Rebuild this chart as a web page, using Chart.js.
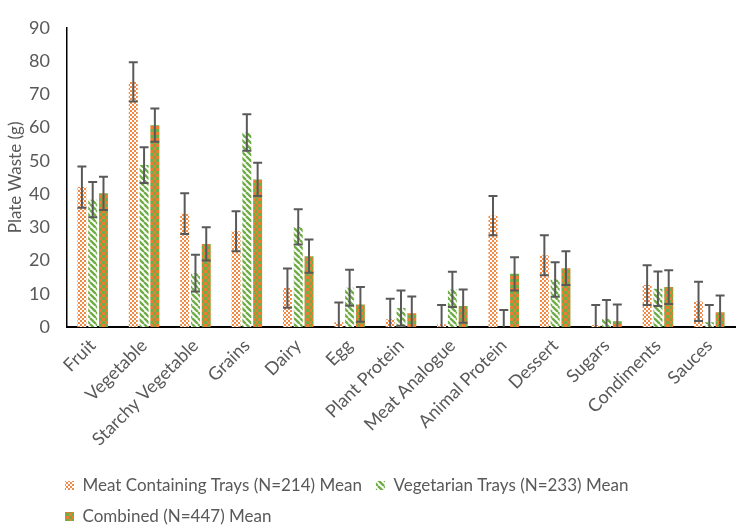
<!DOCTYPE html>
<html>
<head>
<meta charset="utf-8">
<script src="https://cdn.jsdelivr.net/npm/chart.js@4/dist/chart.umd.min.js"></script>
<style>
  body { margin: 0; background: #fff; }
</style>
</head>
<body>
<canvas id="chart" width="740" height="531"></canvas>
<script>
const categories = ['Fruit', 'Vegetable', 'Starchy Vegetable', 'Grains', 'Dairy', 'Egg', 'Plant Protein',
  'Meat Analogue', 'Animal Protein', 'Dessert', 'Sugars', 'Condiments', 'Sauces'];

const meatMean = [42.1, 73.7, 34.1, 28.8, 11.7, 1.4, 2.3, 0.8, 33.5, 21.6, 0.6, 12.6, 7.7];
const meatErr  = [6.2, 5.9, 6.1, 6.0, 5.9, 6.0, 6.2, 5.8, 5.9, 6.0, 6.0, 6.0, 5.9];
const vegMean  = [38.3, 48.7, 16.2, 58.5, 30.1, 11.8, 5.7, 11.3, 0, 14.3, 2.5, 11.5, 1.4];
const vegErr   = [5.3, 5.4, 5.5, 5.5, 5.3, 5.4, 5.3, 5.3, 5.1, 5.2, 5.6, 5.2, 5.2];
const combMean = [40.2, 60.7, 25.0, 44.4, 21.3, 6.8, 4.1, 6.3, 16.0, 17.7, 1.7, 12.0, 4.4];
const combErr  = [5.0, 5.0, 5.0, 5.0, 5.0, 5.2, 5.1, 5.0, 5.0, 5.1, 5.1, 5.1, 5.1];

const seriesLabels = ['Meat Containing Trays (N=214) Mean', 'Vegetarian Trays (N=233) Mean', 'Combined (N=447) Mean'];
const yTicks = [0, 10, 20, 30, 40, 50, 60, 70, 80, 90];

const ORANGE = '#ED7D31';
const GREEN = '#70AD47';
const TEXT = '#595959';

function makePattern(size, paint) {
  const c = document.createElement('canvas');
  c.width = size; c.height = size;
  const g = c.getContext('2d');
  paint(g);
  return g.createPattern(c, 'repeat');
}

// fine orange check on white
const meatFill = makePattern(4, g => {
  g.fillStyle = '#fff'; g.fillRect(0, 0, 4, 4);
  g.fillStyle = '#F08A45';
  g.fillRect(0, 0, 2, 2); g.fillRect(2, 2, 2, 2);
});
// green diagonal stripes
const vegFill = makePattern(6, g => {
  g.fillStyle = '#fff'; g.fillRect(0, 0, 6, 6);
  g.strokeStyle = GREEN; g.lineWidth = 2.4;
  g.beginPath();
  [-6, 0, 6].forEach(k => { g.moveTo(k, 0); g.lineTo(k + 6, 6); });
  g.stroke();
});
// orange check on green
const combFill = makePattern(6, g => {
  g.fillStyle = GREEN; g.fillRect(0, 0, 6, 6);
  g.fillStyle = ORANGE;
  g.fillRect(0, 0, 3, 3); g.fillRect(3, 3, 3, 3);
});

const errors = [meatErr, vegErr, combErr];

const errorBars = {
  id: 'errorBars',
  afterDatasetsDraw(chart) {
    const {ctx, chartArea} = chart;
    const y = chart.scales.y;
    ctx.save();
    ctx.beginPath();
    ctx.rect(chartArea.left, chartArea.top - 10, chartArea.right - chartArea.left, chartArea.bottom - chartArea.top + 10);
    ctx.clip();
    ctx.strokeStyle = TEXT;
    ctx.lineWidth = 2;
    chart.data.datasets.forEach((ds, i) => {
      const meta = chart.getDatasetMeta(i);
      meta.data.forEach((bar, j) => {
        const v = ds.data[j], e = errors[i][j];
        const yTop = y.getPixelForValue(v + e);
        const yBot = y.getPixelForValue(v - e);
        const half = bar.width / 2;
        ctx.beginPath();
        ctx.moveTo(bar.x, yTop); ctx.lineTo(bar.x, yBot);
        ctx.moveTo(bar.x - half, yTop); ctx.lineTo(bar.x + half, yTop);
        ctx.moveTo(bar.x - half, yBot); ctx.lineTo(bar.x + half, yBot);
        ctx.stroke();
      });
    });
    ctx.restore();
  }
};

// put the legend where Excel had it, left aligned under the plot
const legendPlace = {
  id: 'legendPlace',
  afterLayout(chart) {
    const lg = chart.legend;
    const w = lg.width;
    lg.left = 51; lg.right = 51 + w;
    lg.top = 463; lg.bottom = 463 + lg.height;
  }
};

new Chart(document.getElementById('chart'), {
  type: 'bar',
  data: {
    labels: categories,
    datasets: [
      { label: seriesLabels[0], data: meatMean, backgroundColor: meatFill, borderWidth: 0 },
      { label: seriesLabels[1], data: vegMean, backgroundColor: vegFill, borderWidth: 0 },
      { label: seriesLabels[2], data: combMean, backgroundColor: combFill, borderWidth: 0 }
    ]
  },
  options: {
    responsive: false,
    animation: false,
    datasets: { bar: { categoryPercentage: 0.63, barPercentage: 0.83 } },
    layout: { padding: { top: 11, right: 5, left: 0, bottom: 0 } },
    plugins: {
      tooltip: { enabled: false },
      legend: {
        position: 'bottom',
        align: 'start',
        labels: {
          boxWidth: 9, boxHeight: 9, padding: 14, color: TEXT,
          font: { family: 'Lato', size: 17 }
        }
      }
    },
    scales: {
      x: {
        grid: { display: false, drawTicks: false },
        border: { display: true, color: '#000', width: 2 },
        ticks: {
          color: TEXT, font: { family: 'Lato', size: 18 },
          minRotation: 45, maxRotation: 45, autoSkip: false, padding: 8
        },
        afterFit(scale) { scale.height = 132; }
      },
      y: {
        min: 0, max: 90,
        afterBuildTicks(scale) { scale.ticks = yTicks.map(v => ({ value: v })); },
        grid: { display: false, drawTicks: false },
        border: { display: true, color: '#000', width: 1.5 },
        ticks: { color: TEXT, font: { family: 'Lato', size: 18 }, padding: 17 },
        title: {
          display: true, text: 'Plate Waste (g)', color: TEXT,
          font: { family: 'Lato', size: 17 }, padding: { top: 5, bottom: 0 }
        },
        afterFit(scale) { scale.width = 67; }
      }
    }
  },
  plugins: [errorBars, legendPlace]
});
</script>
</body>
</html>
